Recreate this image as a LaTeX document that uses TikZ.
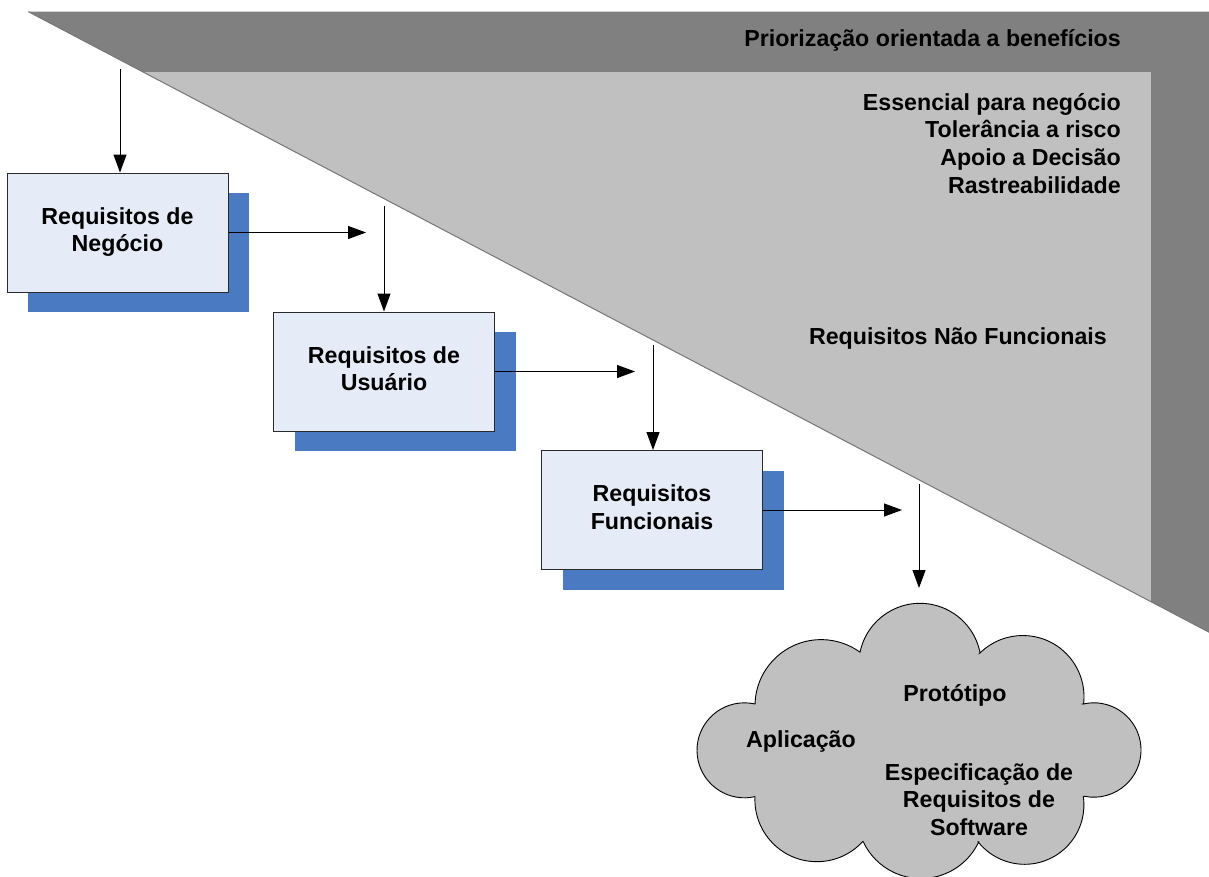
\documentclass[tikz,border=0pt]{standalone}
\usepackage{fontspec}
\setmainfont{Liberation Sans}
\usetikzlibrary{arrows.meta,shadows}

\definecolor{darkband}{HTML}{808080}
\definecolor{lightband}{HTML}{C0C0C0}
\definecolor{edgegray}{HTML}{777777}
\definecolor{boxfill}{HTML}{E6ECF7}
\definecolor{boxline}{HTML}{2A2A2A}
\definecolor{shadowblue}{HTML}{4A7AC2}
\definecolor{cloudfill}{HTML}{C0C0C0}

\begin{document}
\begin{tikzpicture}[x=1pt,y=-1pt,
  every node/.style={font=\bfseries\fontsize{23.2}{27.8}\selectfont, inner sep=0pt, text=black},
  reqbox/.style={draw=boxline, line width=1pt, fill=boxfill,
    minimum width=221pt, minimum height=119pt, align=center,
    general shadow={fill=shadowblue, shadow xshift=21pt, shadow yshift=-20pt}},
  flow/.style={-{Triangle[length=18pt,width=13pt]}, line width=1pt, draw=black},
  cloudshape/.style={fill=cloudfill, draw=black, line width=0.9pt}
]
\useasboundingbox (0,0) rectangle (1209,876);

% priority wedge: dark band with the light inner region
\fill[darkband] (28.3,11.7) -- (1209,11.7) -- (1209,632.2) -- cycle;
\begin{scope}
  \clip (28.3,11.7) -- (1209,11.7) -- (1209,632.2) -- cycle;
  \fill[lightband] (0,72.3) rectangle (1151,700);
\end{scope}
\draw[edgegray, line width=1pt] (28.3,11.7) -- (1209,632.2);

% wedge texts
\node[anchor=base east] (prio) at (1121,46) {Priorização orientada a benefícios};
\node[anchor=base east] (crit1) at (1121,110) {Essencial para negócio};
\node[anchor=base east] (crit2) at (1121,137.8) {Tolerância a risco};
\node[anchor=base east] (crit3) at (1121,165.6) {Apoio a Decisão};
\node[anchor=base east] (crit4) at (1121,193.4) {Rastreabilidade};
\node[anchor=base east] (nfr) at (1107,344) {Requisitos Não Funcionais};

% requirement levels
\node[reqbox] (b1) at (117.5,232.5) {Requisitos de\strut\\Negócio\strut};
\node[reqbox] (b2) at (384,371.5) {Requisitos de\strut\\Usuário\strut};
\node[reqbox] (b3) at (652,510) {Requisitos\strut\\Funcionais\strut};

% free ends of the connectors
\coordinate (v0) at (120,69);
\coordinate (h1) at (366,233);
\coordinate (v1) at (384,206);
\coordinate (h2) at (635,372);
\coordinate (v2) at (653,345);
\coordinate (h3) at (902,511);
\coordinate (v3) at (919,484);
\coordinate (v3e) at (919,588);

\draw[flow] (v0) -- (v0 |- b1.north);
\draw[flow] (b1.east) -- (b1.east -| h1);
\draw[flow] (v1) -- (v1 |- b2.north);
\draw[flow] (b2.east) -- (b2.east -| h2);
\draw[flow] (v2) -- (v2 |- b3.north);
\draw[flow] (b3.east) -- (b3.east -| h3);
\draw[flow] (v3) -- (v3e);

% deliverables cloud
\begin{scope}
\clip (0,0) rectangle (1209,876);
\draw[cloudshape]
  ([shift={(191.8:61.2)}]920,664.5) arc[start angle=191.8, end angle=349.1, radius=61.2]
  -- ([shift={(225.6:61.2)}]1022.8,696.7) arc[start angle=225.6, end angle=366.9, radius=61.2]
  -- ([shift={(257.1:47.2)}]1093.8,750) arc[start angle=257.1, end angle=461.9, radius=47.2]
  -- ([shift={(352:59.3)}]1024.6,805) arc[start angle=352, end angle=501.6, radius=59.3]
  -- ([shift={(25.2:63.8)}]921,814.7) arc[start angle=25.2, end angle=155.2, radius=63.8]
  -- ([shift={(42.5:62)}]816.9,799.7) arc[start angle=42.5, end angle=182.8, radius=62]
  -- ([shift={(77.3:47.5)}]744.5,750.3) arc[start angle=77.3, end angle=282.8, radius=47.5]
  -- ([shift={(181.6:66.2)}]821.2,705.8) arc[start angle=181.6, end angle=305.8, radius=66.2]
  -- cycle;
\end{scope}

\node[anchor=base] (proto) at (955,701.7) {Protótipo};
\node[anchor=base] (app) at (801,747.7) {Aplicação};
\node[anchor=base] (ers1) at (979,780) {Especificação de};
\node[anchor=base] (ers2) at (979,807.6) {Requisitos de};
\node[anchor=base] (ers3) at (979,835.2) {Software};
\end{tikzpicture}
\end{document}
